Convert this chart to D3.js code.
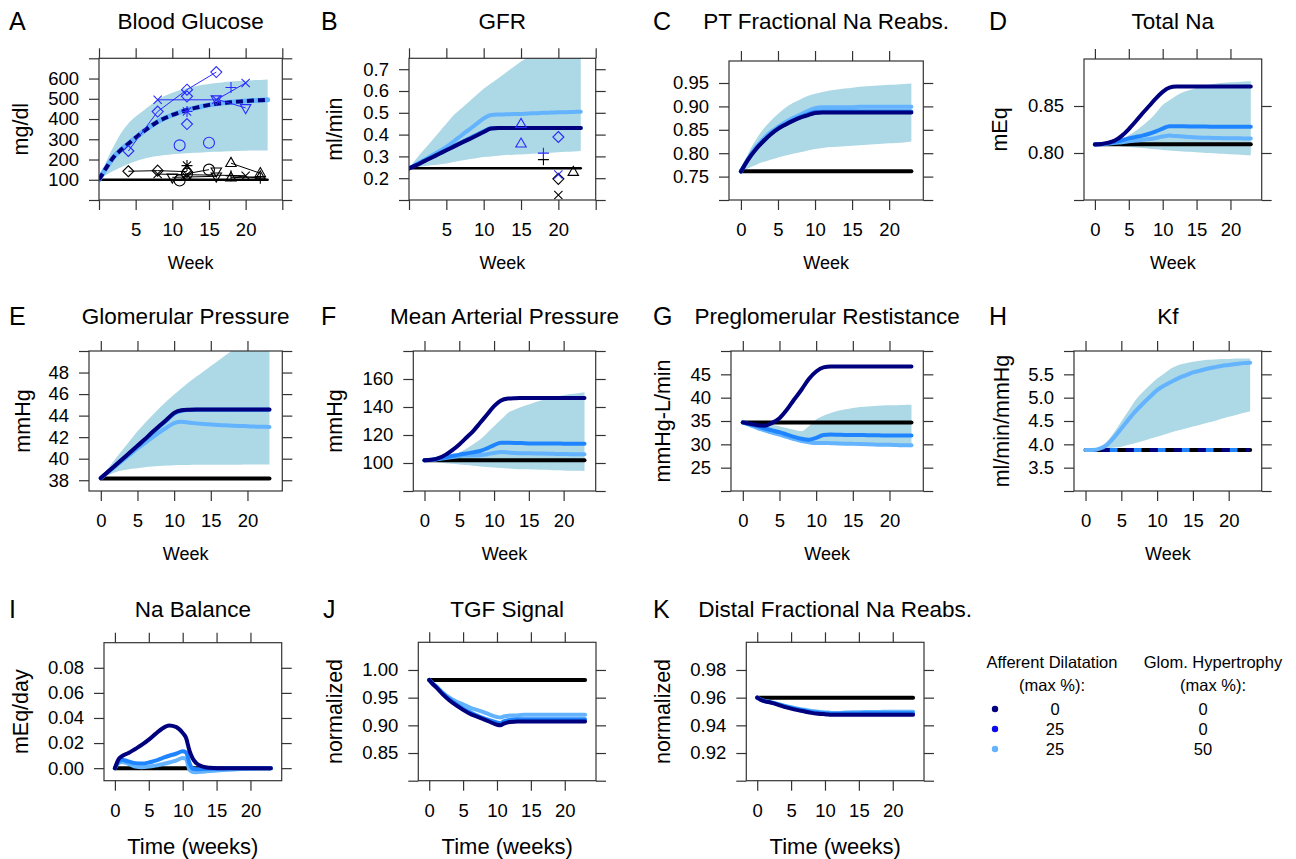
<!DOCTYPE html>
<html>
<head>
<meta charset="utf-8">
<script src="https://cdn.jsdelivr.net/npm/d3@7"></script>
<style>
  body { margin: 0; background: #fff; }
  svg { font-family: "Liberation Sans", Arial, sans-serif; }
</style>
</head>
<body>
<svg id="chart" width="1296" height="859"></svg>
<script>
// ---- time grids ----
var weeks = [0,1,2,3,4,5,6,7,8,9,10,11,12,13,14,15,16,17,18,19,20,21,22,23];
var weeksFine = [0,0.5,1,2,3,4,5,6,7,8,9,10,10.5,11,11.5,12,13,14,15,16,18,20,23];

// ---- A: blood glucose (mg/dl) ----
var glucoseHi = [100,190,265,330,378,412,440,468,495,515,530,542,553,561,568,573,578,582,585,588,590,592,593,595];
var glucoseLo = [100,125,145,162,178,192,203,211,217,222,226,229,231,233,235,237,238,240,241,242,243,244,245,245];
var glucoseMean = [100,160,212,248,278,308,337,363,387,405,420,433,445,454,462,470,475,480,483,486,489,491,493,495];
var glucoseCtrl = [100,100,100,100,100,100,100,100,100,100,100,100,100,100,100,100,100,100,100,100,100,100,100,100];
var glucoseObsDiabetic = [
  {shape: "diamond", pts: [[4,242],[8,437],[12,545],[16,632]]},
  {shape: "times", pts: [[8,495],[16,495],[20,578]]},
  {shape: "plus", pts: [[18,556]]},
  {shape: "triDown", pts: [[16,498],[20,455]]},
  {shape: "star", pts: [[12,437]]},
  {shape: "circle", pts: [[11,270]]},
  {shape: "circle", pts: [[15,283]]},
  {shape: "diamond", pts: [[12,512]]},
  {shape: "diamond", pts: [[12,375]]}
];
var glucoseObsControl = [
  {shape: "diamond", pts: [[4,142],[8,145],[12,140]]},
  {shape: "times", pts: [[8,128],[12,125],[20,120]]},
  {shape: "triDown", pts: [[10,112],[16,117]]},
  {shape: "circle", pts: [[11,96],[12,130],[15,150]]},
  {shape: "star", pts: [[12,170]]},
  {shape: "triDown", pts: [[16,142]]},
  {shape: "triUp", pts: [[18,182],[22,132]]},
  {shape: "triUp", pts: [[18,110],[22,115]]},
  {shape: "plus", pts: [[18,120],[22,108]]}
];

// ---- B: GFR (ml/min) ----
var gfrHi = [0.245,0.29,0.33,0.37,0.41,0.45,0.49,0.52,0.55,0.58,0.61,0.635,0.66,0.685,0.71,0.735,0.755,0.77,0.785,0.80,0.81,0.82,0.83,0.84];
var gfrLo = [0.245,0.25,0.255,0.259,0.263,0.267,0.274,0.281,0.287,0.292,0.297,0.30,0.303,0.306,0.308,0.309,0.311,0.313,0.315,0.317,0.319,0.321,0.323,0.325];
var gfrNavy = [0.245,0.26,0.277,0.294,0.311,0.328,0.345,0.362,0.378,0.395,0.412,0.428,0.43,0.43,0.43,0.43,0.43,0.43,0.43,0.43,0.43,0.43,0.43,0.43];
var gfrBlue = [0.245,0.262,0.279,0.296,0.313,0.33,0.347,0.364,0.381,0.398,0.415,0.429,0.43,0.43,0.43,0.43,0.43,0.43,0.43,0.43,0.43,0.43,0.43,0.43];
var gfrLight = [0.245,0.264,0.283,0.303,0.323,0.343,0.369,0.396,0.422,0.448,0.474,0.49,0.492,0.493,0.494,0.495,0.497,0.498,0.50,0.501,0.502,0.503,0.504,0.505];
var gfrCtrl = [0.246,0.246,0.246,0.246,0.246,0.246,0.246,0.246,0.246,0.246,0.246,0.246,0.246,0.246,0.246,0.246,0.246,0.246,0.246,0.246,0.246,0.246,0.246,0.246];
var gfrObsDiabetic = [
  {shape: "triUp", pts: [[15,0.448]]},
  {shape: "triUp", pts: [[15,0.358]]},
  {shape: "plus", pts: [[18,0.315]]},
  {shape: "diamond", pts: [[20,0.389]]},
  {shape: "times", pts: [[20,0.217]]}
];
var gfrObsControl = [
  {shape: "plus", pts: [[18,0.285]]},
  {shape: "diamond", pts: [[20,0.197]]},
  {shape: "times", pts: [[20,0.123]]},
  {shape: "triUp", pts: [[22,0.228]]}
];

// ---- C: PT fractional Na reabsorption ----
var ptHi = [0.761,0.80,0.828,0.851,0.869,0.884,0.897,0.907,0.915,0.922,0.927,0.931,0.934,0.936,0.938,0.940,0.942,0.943,0.944,0.945,0.946,0.947,0.948,0.949];
var ptLo = [0.761,0.768,0.775,0.781,0.786,0.791,0.795,0.799,0.802,0.806,0.809,0.811,0.813,0.814,0.815,0.816,0.817,0.818,0.819,0.820,0.821,0.822,0.823,0.825];
var ptNavy = [0.761,0.787,0.808,0.825,0.840,0.852,0.861,0.869,0.876,0.881,0.886,0.887,0.887,0.887,0.887,0.887,0.887,0.887,0.887,0.887,0.887,0.887,0.887,0.887];
var ptBlue = [0.761,0.788,0.809,0.826,0.841,0.853,0.862,0.870,0.877,0.883,0.888,0.889,0.889,0.889,0.889,0.889,0.889,0.889,0.889,0.889,0.889,0.889,0.889,0.889];
var ptLight = [0.761,0.789,0.812,0.830,0.845,0.856,0.866,0.875,0.882,0.890,0.896,0.898,0.898,0.898,0.898,0.898,0.899,0.899,0.899,0.899,0.899,0.899,0.899,0.899];
var ptCtrl = [0.7614,0.7614,0.7614,0.7614,0.7614,0.7614,0.7614,0.7614,0.7614,0.7614,0.7614,0.7614,0.7614,0.7614,0.7614,0.7614,0.7614,0.7614,0.7614,0.7614,0.7614,0.7614,0.7614,0.7614];

// ---- D: total Na (mEq) ----
var naHi = [0.809,0.8095,0.811,0.813,0.8155,0.819,0.8235,0.829,0.835,0.8425,0.851,0.856,0.861,0.8645,0.867,0.8695,0.8715,0.873,0.874,0.8748,0.8752,0.8756,0.876,0.8762];
var naLo = [0.809,0.8088,0.8083,0.8077,0.807,0.8064,0.8058,0.8052,0.8045,0.804,0.8033,0.8027,0.8022,0.8017,0.8012,0.8007,0.8003,0.7999,0.7995,0.7991,0.7987,0.7983,0.7979,0.7975];
var naNavy = [0.809,0.8095,0.811,0.8135,0.8185,0.8255,0.8335,0.842,0.850,0.858,0.865,0.8695,0.8707,0.8708,0.8708,0.8708,0.8708,0.8708,0.8708,0.8708,0.8708,0.8708,0.8708,0.8708];
var naBlue = [0.809,0.8095,0.8105,0.812,0.8135,0.8155,0.817,0.8185,0.8205,0.823,0.826,0.8285,0.8285,0.8284,0.8283,0.8282,0.8281,0.828,0.828,0.828,0.828,0.828,0.828,0.828];
var naLight = [0.809,0.8093,0.810,0.8108,0.8115,0.8125,0.8133,0.814,0.8148,0.816,0.8175,0.8185,0.818,0.8175,0.817,0.8166,0.8163,0.8161,0.8159,0.8158,0.8157,0.8156,0.8155,0.8155];
var naCtrl = [0.8093,0.8093,0.8093,0.8093,0.8093,0.8093,0.8093,0.8093,0.8093,0.8093,0.8093,0.8093,0.8093,0.8093,0.8093,0.8093,0.8093,0.8093,0.8093,0.8093,0.8093,0.8093,0.8093,0.8093];

// ---- E: glomerular pressure (mmHg) ----
var pgHi = [38.2,39.1,40.0,40.85,41.7,42.55,43.3,44.0,44.7,45.35,45.95,46.55,47.1,47.6,48.1,48.6,49.1,49.6,50.1,50.6,51.0,51.4,51.8,52.2];
var pgLo = [38.2,38.5,38.75,38.92,39.05,39.12,39.2,39.27,39.32,39.36,39.4,39.42,39.42,39.43,39.43,39.43,39.43,39.44,39.44,39.44,39.45,39.45,39.45,39.45];
var pgNavy = [38.2,38.8,39.4,40.0,40.6,41.2,41.8,42.45,43.05,43.65,44.25,44.5,44.55,44.57,44.57,44.57,44.57,44.57,44.57,44.57,44.57,44.57,44.57,44.57];
var pgBlue = [38.2,38.78,39.36,39.95,40.55,41.15,41.75,42.38,42.98,43.58,44.18,44.45,44.52,44.55,44.55,44.55,44.55,44.55,44.55,44.55,44.55,44.55,44.55,44.55];
var pgLight = [38.2,38.75,39.3,39.85,40.4,40.95,41.45,41.95,42.45,42.9,43.3,43.42,43.35,43.28,43.22,43.17,43.13,43.1,43.07,43.04,43.01,42.98,42.96,42.95];
var pgCtrl = [38.15,38.15,38.15,38.15,38.15,38.15,38.15,38.15,38.15,38.15,38.15,38.15,38.15,38.15,38.15,38.15,38.15,38.15,38.15,38.15,38.15,38.15,38.15,38.15];

// ---- F: mean arterial pressure (mmHg) ----
var mapHi = [101.9,102.5,103.4,104.6,105.9,107.4,110.2,113.4,116.8,121.5,126.3,131,135.8,138.2,140.2,141.8,143.5,145,146.5,147.5,148.4,149.2,149.9,150.5];
var mapLo = [101.9,101.2,100.5,99.9,99.4,99,98.5,98,97.5,97.1,96.7,96.4,96.1,95.8,95.6,95.5,95.3,95.1,95,94.8,94.7,94.5,94.4,94.3];
var mapNavy = [101.9,102.3,103.5,105.8,109.2,113.3,118,122.8,128.7,134.6,140.6,144.6,146,146.3,146.4,146.5,146.5,146.5,146.5,146.5,146.5,146.5,146.5,146.5];
var mapBlue = [101.9,102.3,103.0,104.0,105.0,106.0,106.8,107.6,108.6,110.5,112.8,114.5,114.4,114.3,114.2,114.0,114.0,113.9,113.9,113.9,113.8,113.8,113.8,113.8];
var mapLight = [101.9,102.2,102.8,103.5,104.3,105.0,105.3,105.4,105.5,106.3,107.2,107.8,107.5,107.2,107.0,106.9,106.8,106.7,106.6,106.5,106.4,106.3,106.2,106.2];
var mapCtrl = [101.9,101.9,101.9,101.9,101.9,101.9,101.9,101.9,101.9,101.9,101.9,101.9,101.9,101.9,101.9,101.9,101.9,101.9,101.9,101.9,101.9,101.9,101.9,101.9];

// ---- G: preglomerular resistance (mmHg-L/min) ----
var rHi = [34.7,34.7,34.6,34.4,34.2,33.9,33.5,33.1,32.8,33.9,35.3,36.1,36.7,37.2,37.5,37.8,38.0,38.1,38.2,38.3,38.35,38.4,38.45,38.5];
var rLo = [34.7,34.0,33.3,32.6,32.1,31.7,31.2,30.8,30.4,30.3,30.3,30.2,30.1,30.0,29.95,29.9,29.85,29.8,29.7,29.65,29.6,29.5,29.45,29.4];
var rNavy = [34.7,34.4,34.1,34.0,34.6,35.6,37.4,39.6,41.7,44.0,45.6,46.5,46.7,46.7,46.7,46.7,46.7,46.7,46.7,46.7,46.7,46.7,46.7,46.7];
var rBlue = [34.7,34.3,33.9,33.4,33.0,32.6,32.1,31.6,31.2,31.0,31.4,32.0,32.1,32.05,32.0,32.0,32.0,31.95,31.95,31.9,31.9,31.9,31.9,31.9];
var rLight = [34.7,34.1,33.5,33.0,32.5,32.1,31.6,31.1,30.7,30.45,30.3,30.3,30.25,30.2,30.15,30.1,30.05,30.0,29.95,29.9,29.9,29.85,29.8,29.8];
var rCtrl = [34.7,34.7,34.7,34.7,34.7,34.7,34.7,34.7,34.7,34.7,34.7,34.7,34.7,34.7,34.7,34.7,34.7,34.7,34.7,34.7,34.7,34.7,34.7,34.7];

// ---- H: Kf (ml/min/mmHg) ----
var kfHi = [3.88,3.88,3.93,4.06,4.26,4.49,4.72,4.95,5.12,5.27,5.41,5.52,5.63,5.70,5.74,5.77,5.79,5.81,5.82,5.83,5.83,5.84,5.84,5.84];
var kfLo = [3.88,3.88,3.89,3.91,3.93,3.95,3.99,4.03,4.07,4.12,4.16,4.21,4.26,4.30,4.34,4.38,4.42,4.46,4.50,4.55,4.59,4.63,4.67,4.71];
var kfLight = [3.88,3.88,3.91,3.99,4.15,4.34,4.53,4.71,4.87,5.02,5.16,5.26,5.34,5.42,5.48,5.54,5.58,5.62,5.65,5.68,5.70,5.72,5.74,5.75];
var kfFlat = [3.88,3.88,3.88,3.88,3.88,3.88,3.88,3.88,3.88,3.88,3.88,3.88,3.88,3.88,3.88,3.88,3.88,3.88,3.88,3.88,3.88,3.88,3.88,3.88];

// ---- I: Na balance (mEq/day), on weeksFine ----
var balNavy = [0,0.0067,0.0094,0.012,0.0153,0.0187,0.0227,0.0273,0.0316,0.034,0.0329,0.0281,0.024,0.014,0.0075,0.004,0.0012,0.0003,0,0,0,0,0];
var balBlue = [0,0.005,0.0067,0.0054,0.004,0.0037,0.0045,0.006,0.008,0.0099,0.0115,0.0134,0.0125,0.004,-0.0005,-0.0008,-0.0007,-0.0005,-0.0003,-0.0002,0,0,0];
var balLight = [0,0.004,0.005,0.0035,0.0013,0.0008,0.0013,0.002,0.0032,0.0045,0.006,0.008,0.0072,-0.0013,-0.003,-0.0032,-0.0028,-0.0023,-0.0019,-0.0015,-0.0008,-0.0004,0];
var balCtrl = [0,0,0,0,0,0,0,0,0,0,0,0,0,0,0,0,0,0,0,0,0,0,0];

// ---- J: TGF signal (normalized), on weeksFine ----
var tgfNavy = [0.982,0.975,0.969,0.956,0.945,0.936,0.928,0.921,0.916,0.911,0.906,0.901,0.900,0.903,0.905,0.906,0.907,0.907,0.907,0.907,0.907,0.907,0.907];
var tgfBlue = [0.982,0.975,0.970,0.958,0.947,0.938,0.930,0.924,0.918,0.913,0.909,0.905,0.904,0.907,0.909,0.910,0.911,0.911,0.911,0.911,0.911,0.911,0.911];
var tgfLight = [0.982,0.976,0.971,0.959,0.950,0.943,0.938,0.932,0.928,0.924,0.919,0.915,0.914,0.916,0.917,0.918,0.918,0.919,0.919,0.919,0.919,0.919,0.919];
var tgfCtrl = [0.982,0.982,0.982,0.982,0.982,0.982,0.982,0.982,0.982,0.982,0.982,0.982,0.982,0.982,0.982,0.982,0.982,0.982,0.982,0.982,0.982,0.982,0.982];

// ---- K: distal fractional Na reabsorption (normalized), on weeksFine ----
var dtNavy = [0.96,0.9585,0.9575,0.9564,0.955,0.9534,0.9521,0.951,0.950,0.949,0.9484,0.948,0.9478,0.9476,0.9476,0.9476,0.9476,0.9476,0.9476,0.9476,0.9476,0.9476,0.9476];
var dtBlue = [0.96,0.9586,0.9577,0.9566,0.9553,0.9538,0.9526,0.9515,0.9506,0.9497,0.9491,0.9487,0.9485,0.9483,0.9483,0.9484,0.9485,0.9486,0.9486,0.9487,0.9487,0.9487,0.9487];
var dtLight = [0.96,0.9587,0.9578,0.9567,0.9555,0.9542,0.9531,0.9521,0.9512,0.9504,0.9498,0.9493,0.9492,0.949,0.949,0.949,0.9492,0.9494,0.9495,0.9496,0.9497,0.9498,0.9498];
var dtCtrl = [0.96,0.96,0.96,0.96,0.96,0.96,0.96,0.96,0.96,0.96,0.96,0.96,0.96,0.96,0.96,0.96,0.96,0.96,0.96,0.96,0.96,0.96,0.96];

// ---- legend ----
var legendAfferent = ["0", "25", "25"];
var legendHypertrophy = ["0", "0", "50"];

var NAVY = "#00007f", BLUE = "#1f84ff", LIGHT = "#63b3ff", BAND = "#add8e6";
var OBS_BLUE = "#2a2aff";
var legendColors = [NAVY, "#0a0aee", LIGHT];

var svg = d3.select("#chart");
svg.append("rect").attr("width", 1296).attr("height", 859).attr("fill", "#fff");

function fmt(dec) { return function (d) { return d.toFixed(dec); }; }

function markerPath(shape, s) {
  var p = d3.path();
  if (shape === "circle") { p.moveTo(s, 0); p.arc(0, 0, s, 0, 2 * Math.PI); }
  else if (shape === "diamond") { p.moveTo(0, -s); p.lineTo(s, 0); p.lineTo(0, s); p.lineTo(-s, 0); p.closePath(); }
  else if (shape === "triUp") { p.moveTo(0, -s * 1.05); p.lineTo(s * 0.95, s * 0.6); p.lineTo(-s * 0.95, s * 0.6); p.closePath(); }
  else if (shape === "triDown") { p.moveTo(0, s * 1.05); p.lineTo(s * 0.95, -s * 0.6); p.lineTo(-s * 0.95, -s * 0.6); p.closePath(); }
  else if (shape === "plus") { p.moveTo(-s, 0); p.lineTo(s, 0); p.moveTo(0, -s); p.lineTo(0, s); }
  else if (shape === "times") { var k = s * 0.75; p.moveTo(-k, -k); p.lineTo(k, k); p.moveTo(k, -k); p.lineTo(-k, k); }
  else if (shape === "star") {
    var k2 = s * 0.75;
    p.moveTo(-s, 0); p.lineTo(s, 0); p.moveTo(0, -s); p.lineTo(0, s);
    p.moveTo(-k2, -k2); p.lineTo(k2, k2); p.moveTo(k2, -k2); p.lineTo(-k2, k2);
  }
  return p.toString();
}

var panels = [
  {id: "A", title: "Blood Glucose", letterX: 9, box: [99, 58.3, 282.3, 200], xDomain: [0, 25], yDomain: [0, 700],
   xTicks: [0,5,10,15,20,25], xLabels: [5,10,15,20], yTicks: [0,100,200,300,400,500,600,700], yLabels: [100,200,300,400,500,600], dec: 0,
   yTitle: "mg/dl", yTitleX: 21, xTitle: "Week", t: weeks,
   band: [glucoseLo, glucoseHi],
   lines: [{v: glucoseCtrl, c: "#000", w: 2.5}, {v: glucoseMean, c: LIGHT, w: 5}, {v: glucoseMean, c: NAVY, w: 4, dash: "7,4"}],
   obs: [{sets: glucoseObsControl, c: "#000"}, {sets: glucoseObsDiabetic, c: OBS_BLUE}]},
  {id: "B", title: "GFR", letterX: 321, box: [409, 58.3, 595.7, 200], xDomain: [0, 25], yDomain: [0.1, 0.75],
   xTicks: [0,5,10,15,20,25], xLabels: [5,10,15,20], yTicks: [0.1,0.2,0.3,0.4,0.5,0.6,0.7], yLabels: [0.2,0.3,0.4,0.5,0.6,0.7], dec: 1,
   yTitle: "ml/min", yTitleX: 335, xTitle: "Week", t: weeks,
   band: [gfrLo, gfrHi],
   lines: [{v: gfrCtrl, c: "#000", w: 2.5}, {v: gfrLight, c: LIGHT, w: 4}, {v: gfrBlue, c: BLUE, w: 4}, {v: gfrNavy, c: NAVY, w: 4}],
   obs: [{sets: gfrObsControl, c: "#000"}, {sets: gfrObsDiabetic, c: OBS_BLUE}]},
  {id: "C", title: "PT Fractional Na Reabs.", letterX: 653, box: [729, 61, 923.3, 200], xDomain: [-1.61, 24.61], yDomain: [0.70, 0.997],
   xTicks: [0,5,10,15,20], xLabels: [0,5,10,15,20], yTicks: [0.70,0.75,0.80,0.85,0.90,0.95], yLabels: [0.75,0.80,0.85,0.90,0.95], dec: 2,
   yTitle: null, xTitle: "Week", t: weeks,
   band: [ptLo, ptHi],
   lines: [{v: ptCtrl, c: "#000", w: 4}, {v: ptLight, c: LIGHT, w: 4}, {v: ptBlue, c: BLUE, w: 4}, {v: ptNavy, c: NAVY, w: 4}]},
  {id: "D", title: "Total Na", letterX: 989, box: [1084, 59, 1261.7, 200], xDomain: [-1.61, 24.61], yDomain: [0.75, 0.90],
   xTicks: [0,5,10,15,20], xLabels: [0,5,10,15,20], yTicks: [0.75,0.80,0.85], yLabels: [0.80,0.85], dec: 2,
   yTitle: "mEq", yTitleX: 1000, xTitle: "Week", t: weeks,
   band: [naLo, naHi],
   lines: [{v: naCtrl, c: "#000", w: 4}, {v: naLight, c: LIGHT, w: 4}, {v: naBlue, c: BLUE, w: 4}, {v: naNavy, c: NAVY, w: 4}]},
  {id: "E", title: "Glomerular Pressure", letterX: 9, box: [89, 351, 282.3, 491], xDomain: [-1.61, 24.75], yDomain: [37, 50],
   xTicks: [0,5,10,15,20], xLabels: [0,5,10,15,20], yTicks: [38,40,42,44,46,48,50], yLabels: [38,40,42,44,46,48], dec: 0,
   yTitle: "mmHg", yTitleX: 23, xTitle: "Week", t: weeks,
   band: [pgLo, pgHi],
   lines: [{v: pgCtrl, c: "#000", w: 4}, {v: pgLight, c: LIGHT, w: 4}, {v: pgBlue, c: BLUE, w: 4}, {v: pgNavy, c: NAVY, w: 4}]},
  {id: "F", title: "Mean Arterial Pressure", letterX: 321, box: [413.3, 351, 595.7, 491], xDomain: [-1.61, 24.61], yDomain: [80, 180],
   xTicks: [0,5,10,15,20], xLabels: [0,5,10,15,20], yTicks: [80,100,120,140,160,180], yLabels: [100,120,140,160], dec: 0,
   yTitle: "mmHg", yTitleX: 335, xTitle: "Week", t: weeks,
   band: [mapLo, mapHi],
   lines: [{v: mapCtrl, c: "#000", w: 4}, {v: mapLight, c: LIGHT, w: 4}, {v: mapBlue, c: BLUE, w: 4}, {v: mapNavy, c: NAVY, w: 4}]},
  {id: "G", title: "Preglomerular Restistance", letterX: 653, box: [731, 351, 923.3, 491], xDomain: [-1.61, 24.61], yDomain: [20, 50],
   xTicks: [0,5,10,15,20], xLabels: [0,5,10,15,20], yTicks: [20,25,30,35,40,45,50], yLabels: [25,30,35,40,45], dec: 0,
   yTitle: "mmHg-L/min", yTitleX: 663, xTitle: "Week", t: weeks,
   band: [rLo, rHi],
   lines: [{v: rCtrl, c: "#000", w: 4}, {v: rLight, c: LIGHT, w: 4}, {v: rBlue, c: BLUE, w: 4}, {v: rNavy, c: NAVY, w: 4}]},
  {id: "H", title: "Kf", letterX: 989, box: [1074, 351, 1261.7, 491], xDomain: [-1.61, 24.61], yDomain: [3, 6],
   xTicks: [0,5,10,15,20], xLabels: [0,5,10,15,20], yTicks: [3,3.5,4,4.5,5,5.5,6], yLabels: [3.5,4,4.5,5,5.5], dec: 1,
   yTitle: "ml/min/mmHg", yTitleX: 1002, xTitle: "Week", t: weeks,
   band: [kfLo, kfHi],
   lines: [{v: kfFlat, c: "#000", w: 4}, {v: kfFlat, c: BLUE, w: 4, dash: "8,16"}, {v: kfFlat, c: NAVY, w: 4, dash: "8,16", offset: 8},
           {v: kfLight, c: LIGHT, w: 4}]},
  {id: "I", title: "Na Balance", letterX: 9, box: [104, 642.7, 281.7, 780.7], xDomain: [-1.61, 24.61], yDomain: [-0.01, 0.10],
   xTicks: [0,5,10,15,20], xLabels: [0,5,10,15,20], yTicks: [0,0.02,0.04,0.06,0.08], yLabels: [0,0.02,0.04,0.06,0.08], dec: 2,
   yTitle: "mEq/day", yTitleX: 21, xTitle: "Time (weeks)", t: weeksFine,
   lines: [{v: balCtrl, c: "#000", w: 4}, {v: balLight, c: LIGHT, w: 4}, {v: balBlue, c: BLUE, w: 4}, {v: balNavy, c: NAVY, w: 4}]},
  {id: "J", title: "TGF Signal", letterX: 323, box: [418.3, 642.3, 596, 780.7], xDomain: [-1.61, 24.61], yDomain: [0.80, 1.05],
   xTicks: [0,5,10,15,20], xLabels: [0,5,10,15,20], yTicks: [0.80,0.85,0.90,0.95,1.00], yLabels: [0.85,0.90,0.95,1.00], dec: 2,
   yTitle: "normalized", yTitleX: 335, xTitle: "Time (weeks)", t: weeksFine,
   lines: [{v: tgfCtrl, c: "#000", w: 4}, {v: tgfLight, c: LIGHT, w: 4}, {v: tgfBlue, c: BLUE, w: 4}, {v: tgfNavy, c: NAVY, w: 4}]},
  {id: "K", title: "Distal Fractional Na Reabs.", letterX: 653, box: [746.3, 642.3, 924, 780.7], xDomain: [-1.61, 24.61], yDomain: [0.90, 1.00],
   xTicks: [0,5,10,15,20], xLabels: [0,5,10,15,20], yTicks: [0.90,0.92,0.94,0.96,0.98], yLabels: [0.92,0.94,0.96,0.98], dec: 2,
   yTitle: "normalized", yTitleX: 663, xTitle: "Time (weeks)", t: weeksFine,
   lines: [{v: dtCtrl, c: "#000", w: 4}, {v: dtLight, c: LIGHT, w: 4}, {v: dtBlue, c: BLUE, w: 4}, {v: dtNavy, c: NAVY, w: 4}]}
];

function hasLabel(list, d) {
  return list.some(function (v) { return Math.abs(v - d) < 1e-9; });
}

panels.forEach(function (p) {
  var l = p.box[0], t = p.box[1], r = p.box[2], b = p.box[3];
  var x = d3.scaleLinear().domain(p.xDomain).range([l, r]);
  var y = d3.scaleLinear().domain(p.yDomain).range([b, t]);
  var g = svg.append("g");

  var clipId = "clip" + p.id;
  svg.append("clipPath").attr("id", clipId).append("rect")
    .attr("x", l).attr("y", t).attr("width", r - l).attr("height", b - t);
  var plot = g.append("g").attr("clip-path", "url(#" + clipId + ")");

  if (p.band) {
    var area = d3.area()
      .x(function (d, i) { return x(p.t[i]); })
      .y0(function (d, i) { return y(p.band[0][i]); })
      .y1(function (d, i) { return y(p.band[1][i]); })
      .curve(d3.curveMonotoneX);
    plot.append("path").datum(p.t).attr("d", area).attr("fill", BAND);
  }

  (p.lines || []).forEach(function (s) {
    var line = d3.line()
      .x(function (d, i) { return x(p.t[i]); })
      .y(function (d) { return y(d); })
      .curve(d3.curveMonotoneX);
    plot.append("path").datum(s.v).attr("d", line)
      .attr("fill", "none").attr("stroke", s.c).attr("stroke-width", s.w)
      .attr("stroke-linecap", s.dash ? "butt" : "round").attr("stroke-linejoin", "round")
      .attr("stroke-dasharray", s.dash || null)
      .attr("stroke-dashoffset", s.offset || null);
  });

  (p.obs || []).forEach(function (grp) {
    grp.sets.forEach(function (set) {
      if (set.pts.length > 1) {
        plot.append("path").datum(set.pts)
          .attr("d", d3.line().x(function (d) { return x(d[0]); }).y(function (d) { return y(d[1]); }))
          .attr("fill", "none").attr("stroke", grp.c).attr("stroke-width", 1);
      }
      plot.selectAll(null).data(set.pts).enter().append("path")
        .attr("transform", function (d) { return "translate(" + x(d[0]) + "," + y(d[1]) + ")"; })
        .attr("d", markerPath(set.shape, 5.5))
        .attr("fill", "none").attr("stroke", grp.c).attr("stroke-width", 1.1);
    });
  });

  // box
  g.append("rect").attr("x", l).attr("y", t).attr("width", r - l).attr("height", b - t)
    .attr("fill", "none").attr("stroke", "#333").attr("stroke-width", 1.2);

  var f = fmt(p.dec);
  var axes = [
    {ax: d3.axisLeft(y).tickValues(p.yTicks).tickSize(10).tickPadding(10)
        .tickFormat(function (d) { return hasLabel(p.yLabels, d) ? f(d) : ""; }), tr: [l, 0]},
    {ax: d3.axisRight(y).tickValues(p.yTicks).tickSize(10).tickFormat(""), tr: [r, 0]},
    {ax: d3.axisBottom(x).tickValues(p.xTicks).tickSize(10).tickPadding(13)
        .tickFormat(function (d) { return hasLabel(p.xLabels, d) ? d : ""; }), tr: [0, b]},
    {ax: d3.axisTop(x).tickValues(p.xTicks).tickSize(10).tickFormat(""), tr: [0, t]}
  ];
  axes.forEach(function (a) {
    var ag = g.append("g").attr("transform", "translate(" + a.tr[0] + "," + a.tr[1] + ")").call(a.ax);
    ag.select(".domain").remove();
    ag.attr("font-size", null).attr("font-family", null);
    ag.selectAll("line").attr("stroke", "#333").attr("stroke-width", 1.2);
    ag.selectAll("text").attr("fill", "#000").style("font-size", "18.5px");
  });

  var cx = (l + r) / 2, cy = (t + b) / 2;
  var titleY = t < 100 ? 29 : (t < 400 ? 324 : 617);
  g.append("text").attr("x", cx).attr("y", titleY).attr("text-anchor", "middle")
    .style("font-size", "22.5px").text(p.title);
  g.append("text").attr("x", p.letterX).attr("y", titleY + 1)
    .style("font-size", "25px").text(p.id);

  var xt = g.append("text").attr("x", cx).attr("y", b + 63).attr("text-anchor", "middle")
    .attr("dominant-baseline", "central").text(p.xTitle);
  xt.style("font-size", p.xTitle === "Week" ? "18px" : "22px");
  if (p.xTitle !== "Week") xt.attr("y", b + 66);

  if (p.yTitle) {
    g.append("text").attr("transform", "translate(" + p.yTitleX + "," + cy + ") rotate(-90)")
      .attr("text-anchor", "middle").attr("dominant-baseline", "central")
      .style("font-size", "21.5px").text(p.yTitle);
  }
});

// legend
var lg = svg.append("g").style("font-size", "16.5px");
[["Afferent Dilatation", 1052], ["Glom. Hypertrophy", 1213]].forEach(function (h) {
  lg.append("text").attr("x", h[1]).attr("y", 662).attr("text-anchor", "middle").attr("dominant-baseline", "central").text(h[0]);
  lg.append("text").attr("x", h[1]).attr("y", 685).attr("text-anchor", "middle").attr("dominant-baseline", "central").text("(max %):");
});
var rowY = d3.scalePoint().domain(d3.range(legendAfferent.length)).range([709, 749]);
legendAfferent.forEach(function (v, i) {
  lg.append("circle").attr("cx", 995).attr("cy", rowY(i)).attr("r", 3.2).attr("fill", legendColors[i]);
  lg.append("text").attr("x", 1055).attr("y", rowY(i)).attr("text-anchor", "middle").attr("dominant-baseline", "central").text(v);
  lg.append("text").attr("x", 1203).attr("y", rowY(i)).attr("text-anchor", "middle").attr("dominant-baseline", "central").text(legendHypertrophy[i]);
});
</script>
</body>
</html>
